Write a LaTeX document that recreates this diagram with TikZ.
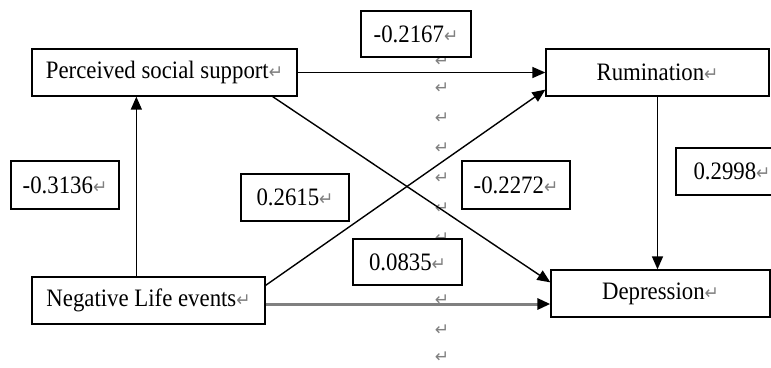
\documentclass[tikz,border=0pt]{standalone}
\usepackage{fontspec}
\setmainfont{Liberation Serif}
\newfontfamily\djv{DejaVu Sans}
\usetikzlibrary{arrows.meta}
\newcommand\pmk{{\djv\fontsize{17}{17}\selectfont\color{black!50}↵}}
\newcommand\tx[1]{\scalebox{1}[1.1]{#1\pmk}}
\begin{document}
\begin{tikzpicture}[x=1pt,y=-1pt,
  box/.style={draw,line width=1.3pt,fill=white,rectangle,inner sep=0pt,
    font=\fontsize{22.8}{27}\selectfont},
  arr/.style={line width=1.4pt,-{Triangle[length=13pt,width=11pt]}},
  gline/.style={line width=3pt,draw=black!50,-{Triangle[length=13pt,width=11pt,black]}},
  pmark/.style={inner sep=0pt}]
\useasboundingbox (0,0) rectangle (771,367);
\clip (0,0) rectangle (771,367);
% paragraph marks column
\foreach \y [count=\i] in {61,88,118,148,178,208,238,300,330,357}
  \node[pmark] (pm\i) at (442,\y) {\pmk};
% main boxes
\node[box,minimum width=265pt,minimum height=47pt] (psup) at (164.5,72.5) {\tx{Perceived social support}};
\node[box,minimum width=223pt,minimum height=47pt] (rum) at (657.5,72.5) {\tx{Rumination}};
\node[box,minimum width=233pt,minimum height=47pt] (nle) at (148.5,300.5) {\tx{Negative Life events}};
\node[box,minimum width=219pt,minimum height=47pt] (dep) at (660.5,293.5) {\tx{Depression}};
% coefficient boxes
\node[box,minimum width=110pt,minimum height=46pt] (c1) at (416,34) {\tx{-0.2167}};
\node[box,minimum width=108pt,minimum height=48pt] (c2) at (65,185) {\tx{-0.3136}};
\node[box,minimum width=108pt,minimum height=47pt] (c3) at (295,197.5) {\tx{0.2615}};
\node[box,minimum width=108pt,minimum height=48pt] (c4) at (516,185) {\tx{-0.2272}};
\node[box,minimum width=112pt,minimum height=47pt] (c5) at (732,171.5) {\tx{0.2998}};
\node[box,minimum width=109pt,minimum height=46pt] (c6) at (407.5,262) {\tx{0.0835}};
% connectors
\draw[arr] ([xshift=105pt]nle.north west) -- ([xshift=105pt]psup.south west);
\draw[arr] (psup.east) -- (rum.west);
\draw[arr] ([xshift=-25pt]psup.south east) -- ([yshift=-13pt]dep.north west);
\draw[arr] ([yshift=-9pt]nle.north east) -- ([yshift=7pt]rum.south west);
\draw[gline] ([yshift=-3.5pt]nle.east) -- ([yshift=-3.5pt]nle.east -| dep.west);
\draw[arr] (rum.south) -- (rum.south |- dep.north);
\end{tikzpicture}
\end{document}
